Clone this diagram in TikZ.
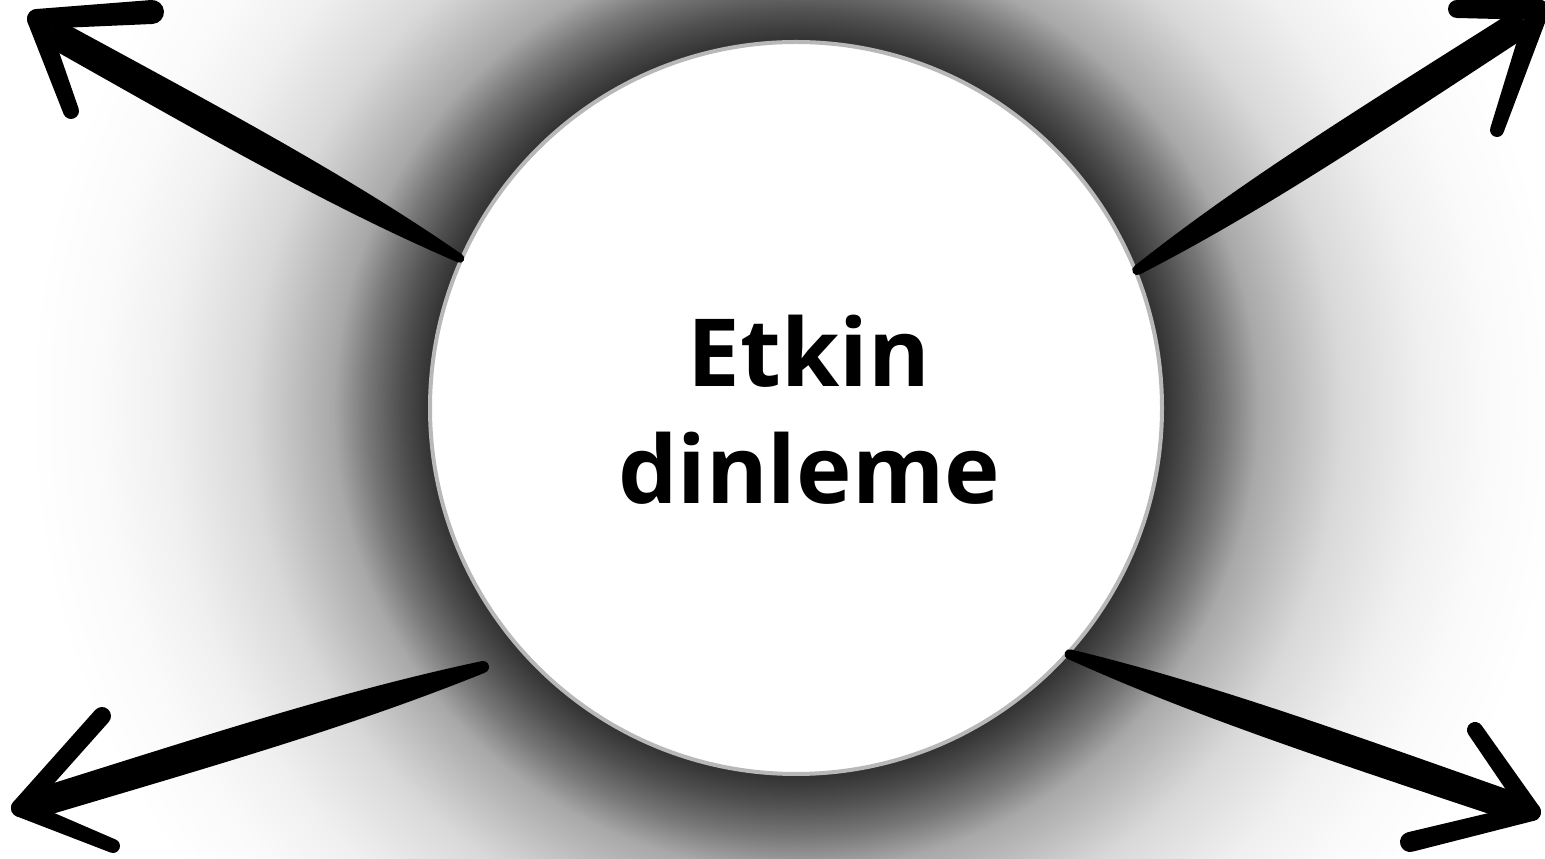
\documentclass[tikz,border=0pt]{standalone}
\usepackage{fontspec}
\newfontfamily\titlefont{Open Sans}
\usetikzlibrary{calc,backgrounds}
\pgfdeclareradialshading{halo}{\pgfpoint{0bp}{0bp}}{color(0bp)=(black!80); color(11.5bp)=(black!80); color(12.35bp)=(black!69); color(13.4bp)=(black!53); color(14.45bp)=(black!34); color(17.05bp)=(black!15); color(19.6bp)=(black!6); color(21.7bp)=(black!2); color(24bp)=(white); color(50bp)=(white)}

\begin{document}
\begin{tikzpicture}[
x=1pt,y=1pt,
hubnode/.style={circle,fill=white,draw=black!28,line width=4pt,minimum size=732pt,inner sep=0pt},
titletext/.style={font=\titlefont\bfseries\fontsize{94}{117}\selectfont,align=center},
taper/.style 2 args={to path={let \p1=($(\tikztotarget)-(\tikztostart)$), \n1={atan2(\y1,\x1)} in
 ($(\tikztostart)+(\n1+90:#1)$) -- ($(\tikztotarget)+(\n1+90:#2)$) arc[start angle=\n1+90,end angle=\n1-90,radius=#2]
 -- ($(\tikztostart)+(\n1-90:#1)$) arc[start angle=\n1-90,end angle=\n1-270,radius=#1] -- cycle}},
brush/.style 2 args={to path={let \p1=($(\tikztotarget)-(\tikztostart)$), \n1={atan2(\y1,\x1)} in
 ($(\tikztostart)+(\n1+90:#1)$) .. controls ($(\tikztostart)!0.3!(\tikztotarget)+(\n1+90:1.25*#2)$) and ($(\tikztostart)!0.6!(\tikztotarget)+(\n1+90:1.1*#2)$) .. ($(\tikztotarget)+(\n1+90:#2)$)
 arc[start angle=\n1+90,end angle=\n1-90,radius=#2]
 .. controls ($(\tikztostart)!0.6!(\tikztotarget)+(\n1-90:1.1*#2)$) and ($(\tikztostart)!0.3!(\tikztotarget)+(\n1-90:1.25*#2)$) .. ($(\tikztostart)+(\n1-90:#1)$)
 arc[start angle=\n1-90,end angle=\n1-270,radius=#1] -- cycle}},
stroke/.style={fill=black}
]
\useasboundingbox (0,0) rectangle (1545,859);
\node[hubnode] (hub) at (796,451) {};
\node[titletext] (title) at ([xshift=13pt,yshift=-2pt]hub.center) {Etkin\\dinleme};
% glow behind the circle
\begin{scope}[on background layer]
\fill[white] (0,0) rectangle (1545,859);
\clip (0,0) rectangle (1545,859);
\shade[shading=halo] (hub.center) circle[radius=800];
\end{scope}
% arrow ends
\coordinate (tlh) at (62,821);
\coordinate (tla) at (37,840);
\coordinate (tlb1) at (152,847);
\coordinate (tlb2) at (71,748);
\coordinate (trh) at (1512,830);
\coordinate (tra) at (1538,849);
\coordinate (trb1) at (1457,850);
\coordinate (trb2) at (1497,729);
\coordinate (blt) at (483,192);
\coordinate (blh) at (45,58);
\coordinate (bla) at (20,51);
\coordinate (blb1) at (102,143);
\coordinate (blb2) at (113,13);
\coordinate (brh) at (1508,54);
\coordinate (bra) at (1532,47);
\coordinate (brb1) at (1475,129);
\coordinate (brb2) at (1410,17);
% top left
\path[stroke] (hub.156.5) to[brush={4.5pt}{14.5pt}] (tlh);
\path[stroke] (tla) to[taper={10pt}{12pt}] (tlb1);
\path[stroke] (tla) to[taper={10pt}{8pt}] (tlb2);
% top right
\path[stroke] (hub.22.6) to[brush={5pt}{14.5pt}] (trh);
\path[stroke] (tra) to[taper={10pt}{9pt}] (trb1);
\path[stroke] (tra) to[taper={11pt}{7pt}] (trb2);
% bottom left
\path[stroke] (blt) to[brush={6pt}{14.5pt}] (blh);
\path[stroke] (bla) to[taper={9pt}{9pt}] (blb1);
\path[stroke] (bla) to[taper={9pt}{7pt}] (blb2);
% bottom right
\path[stroke] (hub.-42.8) to[brush={5pt}{14.5pt}] (brh);
\path[stroke] (bra) to[taper={9pt}{8pt}] (brb1);
\path[stroke] (bra) to[taper={9pt}{10pt}] (brb2);
\end{tikzpicture}
\end{document}
